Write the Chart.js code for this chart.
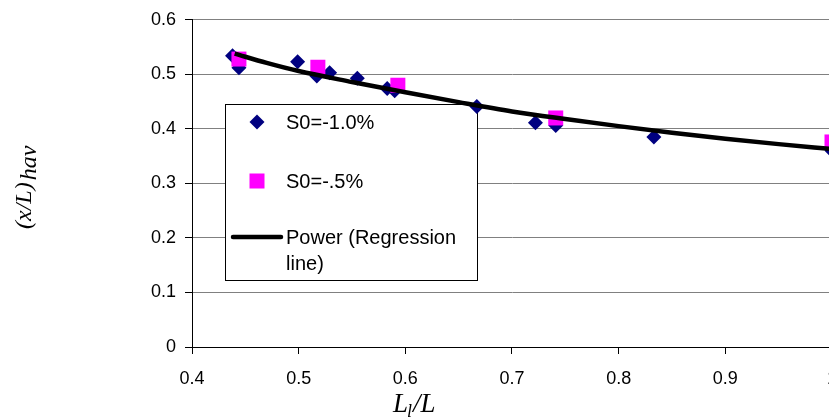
<!DOCTYPE html>
<html>
<head>
<meta charset="utf-8">
<script src="https://cdn.jsdelivr.net/npm/chart.js@4/dist/chart.umd.min.js"></script>
<style>
  html, body { margin: 0; padding: 0; background: #fff; overflow: hidden; }
  #wrap { position: relative; width: 851px; height: 418px; }
</style>
</head>
<body>
<div id="wrap"><canvas id="c"></canvas></div>
<script>
// ---- data ----
const xTickLabels = ['0.4', '0.5', '0.6', '0.7', '0.8', '0.9', '1'];
const yTickLabels = ['0', '0.1', '0.2', '0.3', '0.4', '0.5', '0.6'];

const seriesNames = ['S0=-1.0%', 'S0=-.5%', 'Power (Regression line)'];

const s1X = [0.438, 0.444, 0.499, 0.517, 0.529, 0.555, 0.583, 0.590, 0.667, 0.722, 0.741, 0.833, 1.0];
const s1Y = [0.534, 0.512, 0.523, 0.497, 0.503, 0.493, 0.474, 0.470, 0.441, 0.411, 0.406, 0.385, 0.360];

const s2X = [0.444, 0.518, 0.593, 0.741, 1.0];
const s2Y = [0.528, 0.513, 0.480, 0.420, 0.376];

const regX = [0.44, 0.47, 0.50, 0.55, 0.60, 0.65, 0.70, 0.75, 0.80, 0.85, 0.90, 0.95, 1.00];
const regY = [0.538, 0.521, 0.506, 0.486, 0.467, 0.449, 0.432, 0.418, 0.405, 0.393, 0.382, 0.372, 0.363];

const xTitleMain = 'L';
const xTitleSub = 'l';
const xTitleRest = '/L';
const yTitleMain = '(x/L)';
const yTitleSub = 'hav';

const toPts = (xs, ys) => xs.map((x, i) => ({ x: x, y: ys[i] }));

// ---- plugins ----
const legendBox = {
  id: 'legendBox',
  beforeDatasetsDraw(chart) {
    const ctx = chart.ctx;
    const ds = chart.data.datasets;
    const L = 225.5, T = 104.5, R = 477.5, B = 280.5;
    ctx.save();
    ctx.fillStyle = '#ffffff';
    ctx.fillRect(L, T, R - L, B - T);
    ctx.strokeStyle = '#000000';
    ctx.lineWidth = 1;
    ctx.strokeRect(L, T, R - L, B - T);

    ctx.font = '20px "Liberation Sans", Arial, sans-serif';
    ctx.fillStyle = '#000';
    ctx.textBaseline = 'middle';
    ctx.textAlign = 'left';
    const tx = 286;
    const markX = 257;
    const rows = [122, 181, 237];

    // diamond
    ctx.fillStyle = ds[0].backgroundColor;
    const r = 7.5;
    ctx.beginPath();
    ctx.moveTo(markX - r, rows[0]); ctx.lineTo(markX, rows[0] - r);
    ctx.lineTo(markX + r, rows[0]); ctx.lineTo(markX, rows[0] + r);
    ctx.closePath(); ctx.fill();
    // square
    ctx.fillStyle = ds[1].backgroundColor;
    ctx.fillRect(markX - 7.5, rows[1] - 7.5, 15, 15);
    // line
    ctx.strokeStyle = ds[2].borderColor;
    ctx.lineWidth = ds[2].borderWidth;
    ctx.lineCap = 'round';
    ctx.beginPath(); ctx.moveTo(233, rows[2]); ctx.lineTo(281, rows[2]); ctx.stroke();

    ctx.fillStyle = '#000';
    const maxW = R - tx - 4;
    [0, 1, 2].forEach(i => {
      const words = ds[i].label.split(' ');
      const lines = [];
      let cur = '';
      words.forEach(w => {
        const test = cur ? cur + ' ' + w : w;
        if (ctx.measureText(test).width > maxW && cur) { lines.push(cur); cur = w; }
        else cur = test;
      });
      lines.push(cur);
      lines.forEach((ln, k) => ctx.fillText(ln, tx, rows[i] + 1 + k * 26));
    });
    ctx.restore();
  }
};

const axisTitles = {
  id: 'axisTitles',
  afterDraw(chart) {
    const ctx = chart.ctx;
    ctx.save();
    ctx.fillStyle = '#000';
    ctx.textBaseline = 'alphabetic';
    ctx.textAlign = 'left';
    // x title
    let x = 393;
    ctx.font = 'italic 27px "Liberation Serif", "Times New Roman", serif';
    ctx.fillText(xTitleMain, x, 412);
    x += ctx.measureText(xTitleMain).width - 1;
    ctx.font = 'italic 18px "Liberation Serif", "Times New Roman", serif';
    ctx.fillText(xTitleSub, x, 417);
    x += ctx.measureText(xTitleSub).width + 1;
    ctx.font = 'italic 27px "Liberation Serif", "Times New Roman", serif';
    ctx.fillText(xTitleRest, x, 412);
    // y title
    ctx.translate(31, 229);
    ctx.rotate(-Math.PI / 2);
    ctx.font = 'italic 24px "Liberation Serif", "Times New Roman", serif';
    ctx.fillText(yTitleMain, 0, 0);
    const w = ctx.measureText(yTitleMain).width;
    ctx.fillText(yTitleSub, w + 2, 5);
    ctx.restore();
  }
};

const tickFont = { family: '"Liberation Sans", Arial, sans-serif', size: 18 };

new Chart(document.getElementById('c'), {
  type: 'scatter',
  data: {
    datasets: [
      {
        label: seriesNames[0],
        data: toPts(s1X, s1Y),
        pointStyle: 'rectRot',
        pointRadius: 7.5,
        pointHoverRadius: 7.5,
        backgroundColor: '#000080',
        borderColor: '#000080',
        borderWidth: 0,
        order: 3,
        clip: false
      },
      {
        label: seriesNames[1],
        data: toPts(s2X, s2Y),
        pointStyle: 'rect',
        pointRadius: 10.6,
        pointHoverRadius: 10.6,
        backgroundColor: '#FF00FF',
        borderColor: '#FF00FF',
        borderWidth: 0,
        order: 2,
        clip: false
      },
      {
        label: seriesNames[2],
        data: toPts(regX, regY),
        showLine: true,
        pointRadius: 0,
        pointHoverRadius: 0,
        borderColor: '#000000',
        backgroundColor: '#000000',
        borderWidth: 4.5,
        cubicInterpolationMode: 'monotone',
        order: 1,
        clip: false
      }
    ]
  },
  options: {
    responsive: true,
    maintainAspectRatio: false,
    devicePixelRatio: 1,
    animation: false,
    events: [],
    layout: { padding: { left: 0, right: 12, top: 19, bottom: 0 } },
    plugins: { legend: { display: false }, tooltip: { enabled: false }, title: { display: false } },
    scales: {
      x: {
        type: 'linear',
        min: 0.4, max: 1.0,
        afterFit: s => { s.height = 71; },
        afterBuildTicks: s => { s.ticks = xTickLabels.map(t => ({ value: parseFloat(t) })); },
        ticks: {
          font: tickFont, color: '#000', padding: 14, maxRotation: 0, autoSkip: false,
          callback: (v, i) => xTickLabels[i]
        },
        grid: { drawOnChartArea: false, drawTicks: true, tickLength: 7, color: '#000', lineWidth: 1 },
        border: { display: true, color: '#000', width: 1 }
      },
      y: {
        type: 'linear',
        min: 0, max: 0.6,
        afterFit: s => { s.width = 192; },
        afterBuildTicks: s => { s.ticks = yTickLabels.map(t => ({ value: parseFloat(t) })); },
        ticks: {
          font: tickFont, color: '#000', padding: 9, autoSkip: false,
          callback: (v, i) => yTickLabels[i]
        },
        grid: {
          drawTicks: true, tickLength: 7, lineWidth: 1,
          color: '#808080', tickColor: '#000'
        },
        border: { display: true, color: '#000', width: 1 }
      }
    }
  },
  plugins: [legendBox, axisTitles]
});
</script>
</body>
</html>
